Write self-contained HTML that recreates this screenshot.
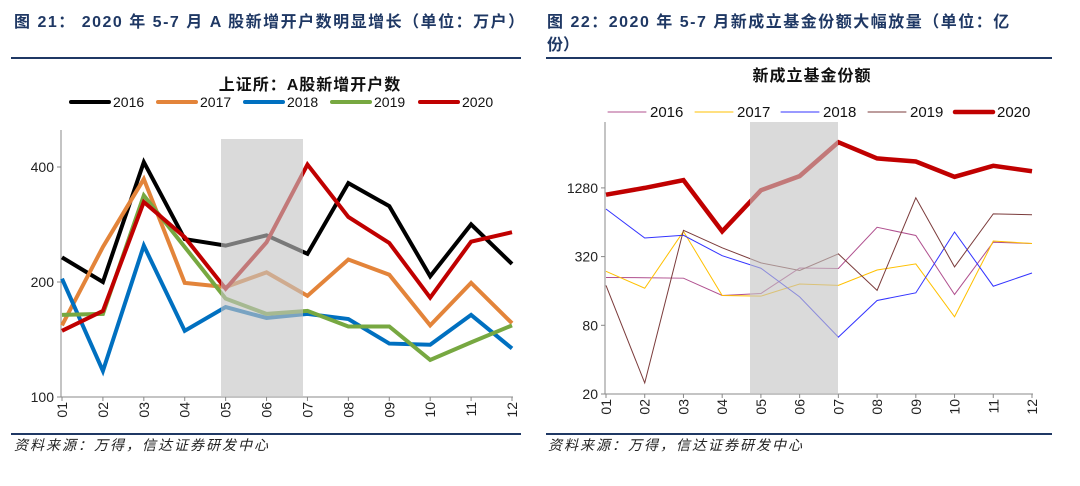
<!DOCTYPE html>
<html><head><meta charset="utf-8">
<style>
body{margin:0;background:#fff;width:1080px;height:486px;overflow:hidden;font-family:"Liberation Sans","Noto Sans CJK SC",sans-serif;}
svg{position:absolute;left:0;top:0}
</style></head><body>
<svg id="c" width="1080" height="486" xmlns="http://www.w3.org/2000/svg">
<g>
<text x="14" y="27" font-size="16" font-weight="bold" fill="#1f3864" letter-spacing="1.5">图 21：  2020 年 5-7 月 A 股新增开户数明显增长（单位：万户）</text>
<rect x="11" y="57" width="510" height="2" fill="#1f3864"/>
</g>
<g>
<text x="547" y="27" font-size="16" font-weight="bold" fill="#1f3864" letter-spacing="1.5">图 22：2020 年 5-7 月新成立基金份额大幅放量（单位：亿</text>
<text x="547" y="50" font-size="16" font-weight="bold" fill="#1f3864">份）</text>
<rect x="546" y="57" width="506" height="2" fill="#1f3864"/>
</g>
<g>
<rect x="11" y="433" width="510" height="2" fill="#1f3864"/>
<rect x="546" y="433" width="506" height="2" fill="#1f3864"/>
<text x="14" y="450" font-size="14" font-style="italic" fill="#222" letter-spacing="2">资料来源：万得，信达证券研发中心</text>
<text x="548" y="450" font-size="14" font-style="italic" fill="#222" letter-spacing="2">资料来源：万得，信达证券研发中心</text>
</g>
<g id="L"></g>
<g id="R"></g>
</svg>
<script>
const months=["01","02","03","04","05","06","07","08","09","10","11","12"];
const leftYears=["2016","2017","2018","2019","2020"];
const leftTicks=[100,200,400];
const l2016=[232,200,412,259,249,265,237,363,316,207,283,223];
const l2017=[154,247,372,199,194,212,184,229,209,154,199,156];
const l2018=[204,117,249,149,172,161,165,160,138,137,164,134];
const l2019=[164,165,337,247,181,165,168,153,153,125,139,154];
const l2020=[149,168,324,262,192,254,406,296,253,182,255,270];
const rightYears=["2016","2017","2018","2019","2020"];
const rightTicks=[20,80,320,1280];
const r2016=[210,209,207,146,152,254,252,578,490,149,428,417];
const r2017=[238,169,532,146,144,184,179,244,276,95,438,417];
const r2018=[836,466,492,326,253,142,63,132,154,526,176,230];
const r2019=[179,25,544,382,282,242,338,162,1048,260,758,744];
const r2020=[1116,1280,1497,532,1220,1624,3220,2320,2180,1600,2000,1790];
const NS="http://www.w3.org/2000/svg";
function mk(p,tag,a,txt){const e=document.createElementNS(NS,tag);for(const k in a)e.setAttribute(k,a[k]);if(txt!==undefined)e.textContent=txt;p.appendChild(e);return e;}

function chart(g,cfg){
  const xs=i=>cfg.x0+i*(cfg.x1-cfg.x0)/(months.length-1);
  const ys=v=>cfg.yb-cfg.k*Math.log(v/cfg.base)/Math.log(cfg.lb);
  const t=mk(g,'text',{x:cfg.tx,y:cfg.ty,'font-size':16,'font-weight':'bold','text-anchor':'middle',fill:'#111','letter-spacing':1},cfg.title);
  
  
  cfg.years.forEach((yr,j)=>{
    const lx=cfg.legX[j];
    const lg=mk(g,'g',{});
    
    
    mk(lg,'line',{x1:lx,y1:cfg.legY,x2:lx+38,y2:cfg.legY,stroke:cfg.colors[j],'stroke-width':cfg.widths[j],'stroke-linecap':'round'});
    mk(lg,'text',{x:lx+42,y:cfg.legY+5,'font-size':cfg.legFs,fill:'#111'},yr);
  });
  const ax=mk(g,'g',{});
  
  
  mk(ax,'line',{x1:cfg.x0-1,y1:cfg.ytop,x2:cfg.x0-1,y2:cfg.yb,stroke:'#888','stroke-width':1});
  mk(ax,'line',{x1:cfg.x0-1,y1:cfg.yb,x2:cfg.x1+1,y2:cfg.yb,stroke:'#888','stroke-width':1});
  cfg.ticks.forEach(v=>{
    const y=ys(v);
    mk(ax,'line',{x1:cfg.x0-5,y1:y,x2:cfg.x0-1,y2:y,stroke:'#888'});
    const tl=mk(ax,'text',{x:cfg.x0-8,y:y+5,'font-size':14,'text-anchor':'end',fill:'#222'},String(v));
    
    
  });
  months.forEach((m,i)=>{
    const x=xs(i);
    mk(ax,'line',{x1:x,y1:cfg.yb,x2:x,y2:cfg.yb+4,stroke:'#888'});
    const tl=mk(ax,'text',{x:0,y:0,'font-size':14,'text-anchor':'end',fill:'#222',transform:`translate(${x+5},${cfg.yb+5}) rotate(-90)`},m);
    
    
  });
  cfg.series.forEach((s,j)=>{
    const p=mk(g,'polyline',{points:s.map((v,i)=>xs(i)+','+ys(v)).join(' '),fill:'none',stroke:cfg.colors[j],'stroke-width':cfg.widths[j],'stroke-linejoin':'miter'});
    
    
  });
  const sh=mk(g,'rect',{x:cfg.sx0,y:cfg.sy,width:cfg.sx1-cfg.sx0,height:cfg.yb-cfg.sy,fill:'#c4c4c4',opacity:0.62});
  
  
}
chart(document.getElementById('L'),{
  title:'上证所：A股新增开户数',tx:310,ty:90,years:leftYears,legY:102,legX:[71,158,245,332,420],legFs:14,
  colors:['#000000','#e3843a','#0070c0','#77a841','#c00000'],widths:[4,4,4,4,4],
  x0:62,x1:512,yb:397,ytop:130,k:115,base:100,lb:2,ticks:leftTicks,
  series:[l2016,l2017,l2018,l2019,l2020],sx0:221,sx1:303,sy:139
});
chart(document.getElementById('R'),{
  title:'新成立基金份额',tx:812,ty:81,years:rightYears,legY:112,legX:[608,695,781,868,955],legFs:15,
  colors:['#b0508f','#ffc000','#3333ff','#7b3b3b','#c00000'],widths:[1,1,1,1,4.5],
  x0:606,x1:1032,yb:394,ytop:122,k:68.7,base:20,lb:4,ticks:rightTicks,
  series:[r2016,r2017,r2018,r2019,r2020],sx0:750,sx1:838,sy:122
});
</script>
</body></html>
